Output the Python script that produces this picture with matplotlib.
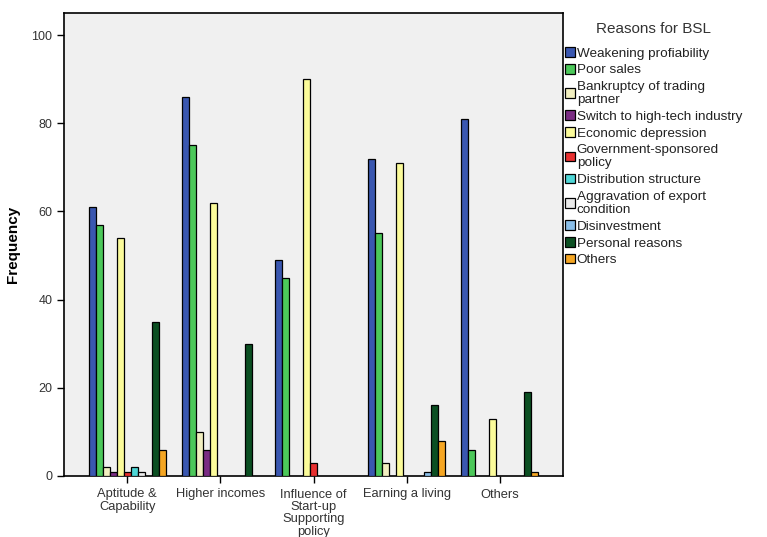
import matplotlib
matplotlib.use("Agg")
import matplotlib.pyplot as plt
import numpy as np
from matplotlib.patches import Patch

categories = ["Aptitude &\nCapability", "Higher incomes",
              "Influence of\nStart-up\nSupporting\npolicy", "Earning a living", "Others"]

series_names = ["Weakening profiability", "Poor sales", "Bankruptcy of trading\npartner",
                "Switch to high-tech industry", "Economic depression",
                "Government-sponsored\npolicy", "Distribution structure",
                "Aggravation of export\ncondition", "Disinvestment", "Personal reasons", "Others"]

weakening = [61, 86, 49, 72, 81]
poor_sales = [57, 75, 45, 55, 6]
bankruptcy = [2, 10, 0, 3, 0]
switch_hightech = [1, 6, 0, 0, 0]
economic = [54, 62, 90, 71, 13]
government = [1, 0, 3, 0, 0]
distribution = [2, 0, 0, 0, 0]
aggravation = [1, 0, 0, 0, 0]
disinvestment = [0, 0, 0, 1, 0]
personal = [35, 30, 0, 16, 19]
others = [6, 0, 0, 8, 1]

series = [weakening, poor_sales, bankruptcy, switch_hightech, economic, government,
          distribution, aggravation, disinvestment, personal, others]

colors = ["#3A57B0", "#4CC85A", "#F2EFC0", "#7A2C83", "#FBFB9A", "#E83030",
          "#4ED6D6", "#EBEBEB", "#8ABEE8", "#0B4F22", "#F5A623"]

plt.rcParams['font.family'] = ['Liberation Sans', 'DejaVu Sans']

fig = plt.figure(figsize=(7.67, 5.37), dpi=100)
ax = fig.add_axes([64/767, 1-476/537, (563-64)/767, (476-13)/537])
ax.set_facecolor("#F0F0F0")

x = np.arange(len(categories))
n = len(series)
w = 0.0755
for i, (vals, c) in enumerate(zip(series, colors)):
    pos = x + (i - (n-1)/2) * w
    v = np.array(vals, dtype=float)
    mask = v > 0
    ax.bar(pos[mask], v[mask], width=w, color=c, edgecolor="black", linewidth=0.9, zorder=3)

ax.set_xlim(-0.68, 4.68)
ax.set_ylim(0, 105)
ax.set_yticks([0, 20, 40, 60, 80, 100])
ax.set_xticks(x)
ax.set_xticklabels(categories, fontsize=9.3, color="#333333", linespacing=1.05)
ax.tick_params(axis='y', labelsize=9, labelcolor="#333333", direction='out', length=5, width=1)
ax.tick_params(axis='x', direction='out', length=5, width=1, pad=4)
for s in ax.spines.values():
    s.set_linewidth(1.2)
ax.set_ylabel("Frequency", fontsize=11, fontweight='bold')
ax.yaxis.set_label_coords(-0.088, 0.5)

handles = [Patch(facecolor=c, edgecolor="black", linewidth=0.9) for c in colors]
leg = fig.legend(handles, series_names, loc='upper left', bbox_to_anchor=(565/767, 1-22/537),
                 frameon=False, title="Reasons for BSL", title_fontsize=11, fontsize=9.7,
                 handlelength=0.72, handleheight=0.72, handletextpad=0.15, labelspacing=0.32,
                 borderaxespad=0, borderpad=0)
leg._legend_box.align = "center"
leg._legend_box.sep = 8
for t in leg.get_texts():
    t.set_linespacing(1.15)
    t.set_color("#222222")
leg.get_title().set_color("#333333")

fig.savefig("out.png", dpi=100)
